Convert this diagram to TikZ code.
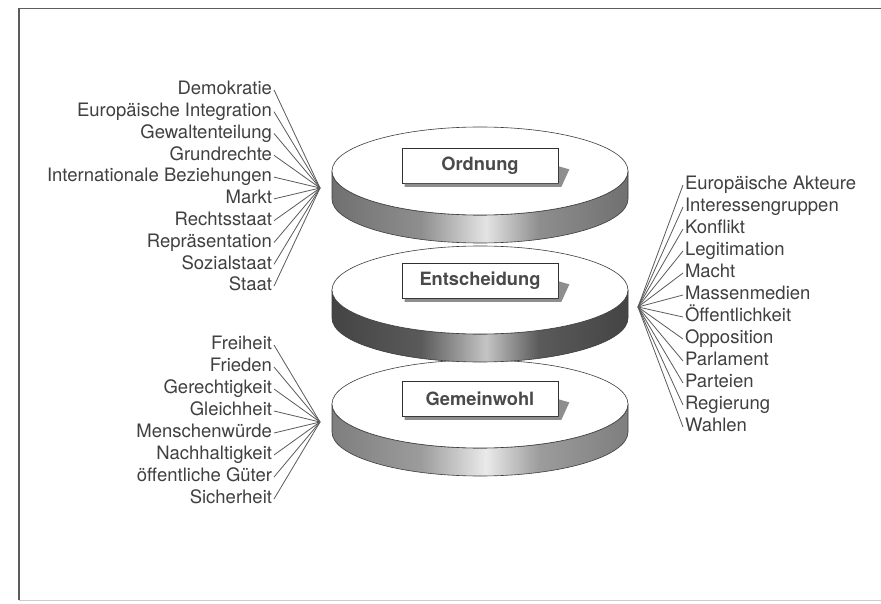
\documentclass[tikz,border=0pt]{standalone}
\usepackage{fontspec}
\setmainfont{TeX Gyre Heros}
\usetikzlibrary{calc}
\definecolor{txt}{HTML}{404040}
\definecolor{fanc}{HTML}{5A5A5A}
\definecolor{framec}{HTML}{5C5C5C}
\definecolor{diskline}{HTML}{3C3C3C}
\definecolor{boxline}{HTML}{303030}
\definecolor{lbltxt}{HTML}{4A4A4A}
\definecolor{shadowc}{HTML}{8E8E8E}
\definecolor{oE}{HTML}{707070}
\definecolor{oM}{HTML}{8E8E8E}
\definecolor{oH}{HTML}{E4E4E4}
\definecolor{eE}{HTML}{444444}
\definecolor{eM}{HTML}{5A5A5A}
\definecolor{eH}{HTML}{C4C4C4}
\definecolor{gE}{HTML}{7E7E7E}
\definecolor{gM}{HTML}{9C9C9C}
\definecolor{gH}{HTML}{EAEAEA}
\pgfdeclarehorizontalshading{bandO}{100bp}{color(0bp)=(oE); color(25bp)=(oE); color(40bp)=(oM); color(51bp)=(oH); color(60bp)=(oM); color(75bp)=(oE); color(100bp)=(oE)}
\pgfdeclarehorizontalshading{bandE}{100bp}{color(0bp)=(eE); color(25bp)=(eE); color(40bp)=(eM); color(51bp)=(eH); color(60bp)=(eM); color(75bp)=(eE); color(100bp)=(eE)}
\pgfdeclarehorizontalshading{bandG}{100bp}{color(0bp)=(gE); color(25bp)=(gE); color(40bp)=(gM); color(51bp)=(gH); color(60bp)=(gM); color(75bp)=(gE); color(100bp)=(gE)}
\newcommand\mydisk[2]{%
  \shadedraw[shading=#2, draw=diskline, line width=0.6pt]
    (332,-#1) -- (332,-#1-28)
    arc[start angle=180, end angle=360, x radius=148pt, y radius=44pt]
    -- (628,-#1)
    arc[start angle=0, end angle=-180, x radius=148pt, y radius=44pt] -- cycle;
  \draw[diskline, fill=white, line width=0.6pt] (480,-#1) ellipse[x radius=148pt, y radius=44pt];}
\newcommand\myshadow[1]{%
  \fill[shadowc] ($(#1.south east)+(0.4,17)$) -- ($(#1.south east)+(11,14)$)
    -- ($(#1.south east)+(3,-3.5)$) -- ($(#1.south west)+(3,-3.5)$)
    -- ($(#1.south west)+(3,-0.4)$) -- ($(#1.south east)+(0.4,-0.4)$) -- cycle;}
\tikzset{
  item/.style={inner xsep=2pt, inner ysep=0pt, outer sep=0pt, text=txt,
    font=\fontsize{18.5}{20}\selectfont, text height=13pt, text depth=3.5pt},
  lbl/.style={draw=boxline, fill=white, line width=0.7pt, minimum width=156pt,
    minimum height=35pt, inner sep=0pt, text=lbltxt,
    font=\bfseries\fontsize{18.3}{20}\selectfont},
  fanline/.style={draw=fanc, line width=0.8pt}
}
\begin{document}
\begin{tikzpicture}[x=1pt,y=1pt]
\useasboundingbox (0,0) rectangle (881,-604);
\fill[white] (0,0) rectangle (881,-604);
% frame
\draw[framec, line width=1.4pt] (881,-8.5) -- (19,-8.5) -- (19,-599.5);
\draw[black!20, line width=0.8pt] (19,-600) -- (881,-600);
% disks (lowest first)
\mydisk{404}{bandG}
\mydisk{290}{bandE}
\mydisk{171}{bandO}
% label boxes
\node[lbl] (bo) at (480,-165.5) {Ordnung};
\myshadow{bo}
\node[lbl] (be) at (480,-280.5) {Entscheidung};
\myshadow{be}
\node[lbl] (bg) at (480,-398.5) {Gemeinwohl};
\myshadow{bg}
% fan points
\coordinate (fa) at (320,-188);
\coordinate (fg) at (320,-422);
\coordinate (fr) at (638,-307);
% left list (Ordnung)
\foreach \t [count=\i from 0] in {Demokratie,Europäische Integration,Gewaltenteilung,Grundrechte,Internationale Beziehungen,Markt,Rechtsstaat,Repräsentation,Sozialstaat,Staat}{
  \node[item, anchor=east] (a\i) at (274,{-(188+(\i-4.5)*21.8)}) {\t};
  \draw[fanline] (fa) -- (a\i.east);
}
% left list (Gemeinwohl)
\foreach \t [count=\i from 0] in {Freiheit,Frieden,Gerechtigkeit,Gleichheit,Menschenwürde,Nachhaltigkeit,öffentliche Güter,Sicherheit}{
  \node[item, anchor=east] (g\i) at (274,{-(422+(\i-3.5)*22)}) {\t};
  \draw[fanline] (fg) -- (g\i.east);
}
% right list (Entscheidung)
\foreach \t [count=\i from 0] in {Europäische Akteure,Interessengruppen,Konflikt,Legitimation,Macht,Massenmedien,Öffentlichkeit,Opposition,Parlament,Parteien,Regierung,Wahlen}{
  \node[item, anchor=west] (r\i) at (683,{-(306+(\i-5.5)*22)}) {\t};
  \draw[fanline] (fr) -- (r\i.west);
}
\end{tikzpicture}
\end{document}
